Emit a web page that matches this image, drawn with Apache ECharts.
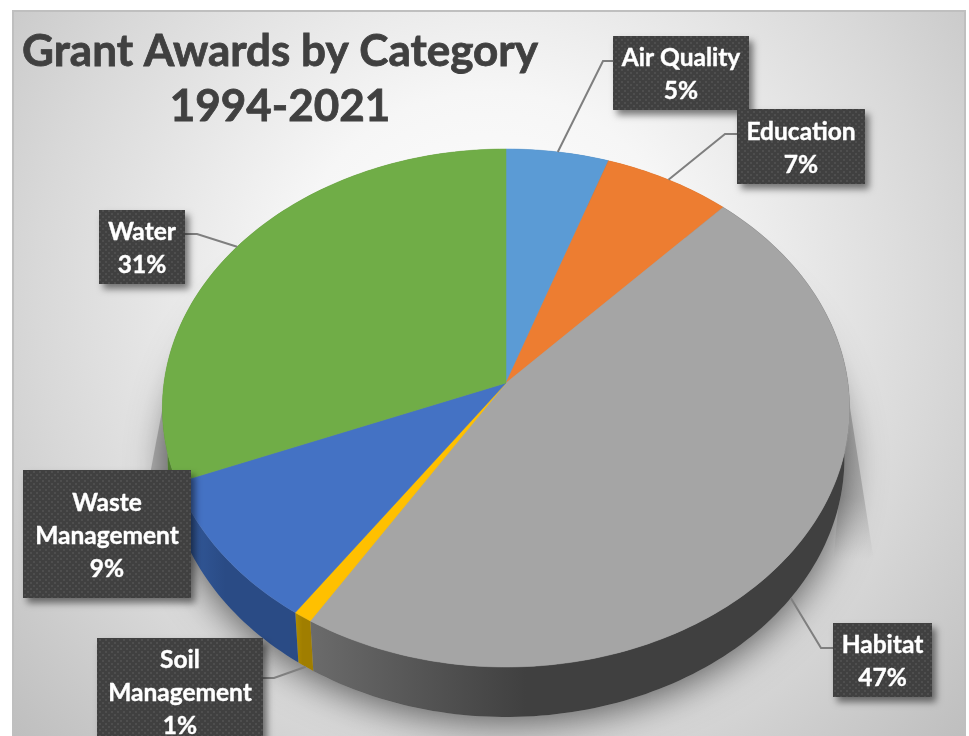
<!DOCTYPE html>
<html>
<head>
<meta charset="utf-8">
<title>Grant Awards by Category</title>
<style>
  html, body { margin: 0; padding: 0; background: #fff; overflow: hidden; }
  #chart { width: 969px; height: 736px; }
</style>
<script src="https://cdn.jsdelivr.net/npm/echarts@6/dist/echarts.min.js"></script>
</head>
<body>
<div id="chart"></div>
<script>
const titleText = "Grant Awards by Category\n1994-2021";
const categories = ["Air Quality", "Education", "Habitat", "Soil\nManagement", "Waste\nManagement", "Water"];
const values = [5.3, 6.6, 46.9, 0.8, 9.3, 31.1];
const topColors = ["#5B9BD5", "#ED7D31", "#A5A5A5", "#FFC000", "#4472C4", "#70AD47"];
const wallColors = [
  ["#3A6F9F", "#3A6F9F"],
  ["#B05A20", "#B05A20"],
  ["#6B6B6B", "#404040"],
  ["#B08C00", "#A07E00"],
  ["#345C9F", "#2A4B85"],
  ["#4F7F30", "#4F7F30"],
];

// label boxes, same order as categories. lineY null = no leader line
const labelBoxes = [
  { x: 613, y: 36, w: 136, h: 74, lineY: 61, elbow: 603 },
  { x: 737, y: 109, w: 128, h: 75, lineY: 134, elbow: 725 },
  { x: 833, y: 623, w: 99, h: 74, lineY: 648, elbow: 821 },
  { x: 97, y: 638, w: 166, h: 106, lineY: 678, elbow: 274 },
  { x: 23, y: 470, w: 168, h: 128, lineY: null },
  { x: 99, y: 210, w: 86, h: 74, lineY: 234, elbow: 197 },
];

// pie is a tilted disc, the near half looks bigger than the far half
const cx = 506, cy = 383, radX = 342, radY = 256.6, persp = 0.0965;
const depth = 50, wallShrink = 0.985;

const total = values.reduce((a, b) => a + b, 0);
const starts = [];
values.reduce((sum, v, i) => { starts[i] = sum; return sum + v; }, 0);

function project(pct, lift) {
  const a = (pct / total) * Math.PI * 2;
  const u = Math.sin(a), v = -Math.cos(a);
  const w = 1 - persp * v;
  if (lift) return [cx + (radX * u / w) * wallShrink, cy + radY * v / w + depth];
  return [cx + radX * u / w, cy + radY * v / w];
}

function arc(from, to, lift) {
  const pts = [];
  const n = Math.max(4, Math.ceil((to - from) * 3));
  for (let i = 0; i <= n; i++) pts.push(project(from + (to - from) * i / n, lift));
  return pts;
}

function dotPattern() {
  const c = document.createElement("canvas");
  c.width = 6; c.height = 6;
  const g = c.getContext("2d");
  g.fillStyle = "#404040";
  g.fillRect(0, 0, 6, 6);
  g.fillStyle = "#4e4e4e";
  g.fillRect(0, 0, 2, 2);
  g.fillRect(3, 3, 2, 2);
  return { image: c, repeat: "repeat" };
}
const pattern = dotPattern();

const chart = echarts.init(document.getElementById("chart"), null, { renderer: "canvas" });

function baseCustom(z, renderItem) {
  return { type: "custom", coordinateSystem: "none", silent: true, animation: false, z, data: values, renderItem };
}

chart.setOption({
  animation: false,
  title: {
    text: titleText,
    left: 275,
    top: 19,
    textAlign: "center",
    textStyle: {
      fontFamily: "Lato", fontWeight: "bold", fontSize: 44, lineHeight: 55, color: "#404040",
      textBorderColor: "#404040", textBorderWidth: 0.8,
    },
  },
  graphic: [
    {
      type: "rect",
      z: -10,
      shape: { x: 13, y: 11, width: 952, height: 740 },
      style: {
        fill: {
          type: "radial", x: 0.5, y: 0.38, r: 0.9, global: false,
          colorStops: [
            { offset: 0, color: "#ffffff" },
            { offset: 0.3, color: "#f6f6f6" },
            { offset: 0.68, color: "#d8d8d8" },
            { offset: 1, color: "#bcbcbc" },
          ],
        },
        stroke: "#bfbfbf",
        lineWidth: 2,
      },
    },
  ],
  series: [
    // soft shadow under the disc
    baseCustom(1, (params) => {
      if (params.dataIndex !== 0) return;
      return {
        type: "group",
        children: [
          {
            type: "polygon",
            shape: { points: [[848, 395], [873, 555], [830, 600]] },
            style: {
              fill: {
                type: "linear", x: 0, y: 0, x2: 0, y2: 1,
                colorStops: [
                  { offset: 0, color: "rgba(140,140,140,0.6)" },
                  { offset: 0.5, color: "rgba(140,140,140,0.45)" },
                  { offset: 0.8, color: "rgba(140,140,140,0)" },
                ],
              },
            },
          },
          {
            type: "polygon",
            shape: { points: [[165, 395], [149, 480], [220, 520]] },
            style: { fill: "#b4b4b4" },
          },
          {
            type: "polygon",
            shape: { points: arc(0, total, true) },
            style: { fill: "#a0a0a0", shadowBlur: 38, shadowColor: "rgba(0,0,0,0.6)", shadowOffsetY: 6 },
          },
        ],
      };
    }),
    // side wall of the disc
    baseCustom(2, (params) => {
      const i = params.dataIndex;
      const from = starts[i], to = from + values[i];
      const points = arc(from, to, false).concat(arc(from, to, true).reverse());
      return {
        type: "polygon",
        shape: { points },
        style: {
          fill: {
            type: "linear", x: 0, y: 0, x2: 1, y2: 0,
            colorStops: [
              { offset: 0, color: wallColors[i][0] },
              { offset: 0.4, color: wallColors[i][1] },
              { offset: 1, color: wallColors[i][1] },
            ],
          },
        },
      };
    }),
    // top faces
    baseCustom(3, (params) => {
      const i = params.dataIndex;
      const from = starts[i], to = from + values[i];
      return {
        type: "polygon",
        shape: { points: [[cx, cy]].concat(arc(from, to, false)) },
        style: { fill: topColors[i], stroke: topColors[i], lineWidth: 0.5 },
      };
    }),
    // leader lines
    baseCustom(4, (params) => {
      const i = params.dataIndex;
      const box = labelBoxes[i];
      if (box.lineY === null) return;
      const mid = starts[i] + values[i] / 2;
      const near = Math.cos((mid / total) * Math.PI * 2) < 0;
      const end = project(mid, near);
      const edge = box.elbow > box.x ? box.x + box.w : box.x;
      return {
        type: "polyline",
        shape: { points: [[edge, box.lineY], [box.elbow, box.lineY], end] },
        style: { fill: null, stroke: "#7f7f7f", lineWidth: 2 },
      };
    }),
    // label boxes
    baseCustom(5, (params) => {
      const i = params.dataIndex;
      const box = labelBoxes[i];
      const pct = Math.round((values[i] / total) * 100);
      return {
        type: "group",
        children: [
          {
            type: "rect",
            shape: { x: box.x, y: box.y, width: box.w, height: box.h },
            style: { fill: pattern, shadowBlur: 7, shadowOffsetX: 4, shadowOffsetY: 5, shadowColor: "rgba(0,0,0,0.5)" },
          },
          {
            type: "text",
            style: {
              x: box.x + box.w / 2,
              y: box.y + box.h / 2 + 2,
              text: categories[i] + "\n" + pct + "%",
              align: "center",
              verticalAlign: "middle",
              fill: "#ffffff",
              font: "bold 24.5px Lato",
              lineHeight: 33,
              stroke: "#ffffff",
              lineWidth: 0.4,
            },
          },
        ],
      };
    }),
  ],
});
</script>
</body>
</html>
